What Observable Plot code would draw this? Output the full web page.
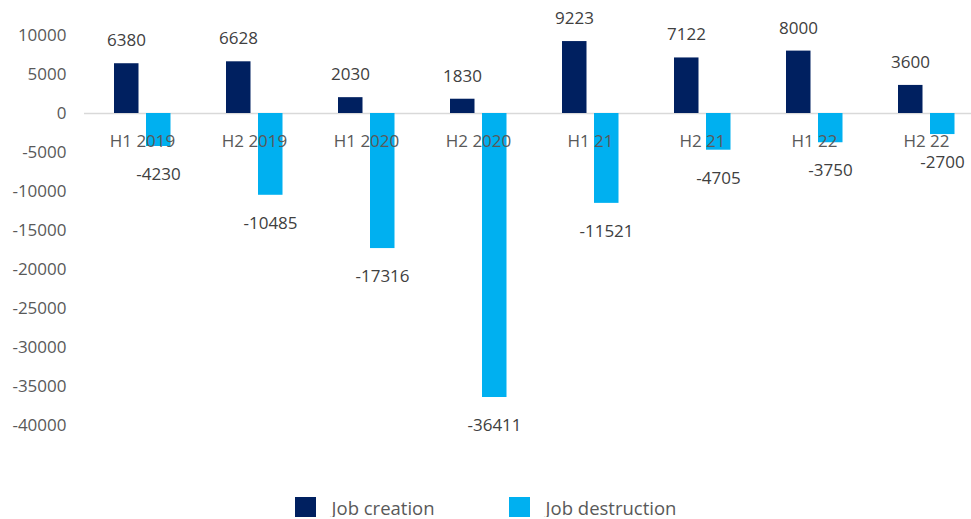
<!DOCTYPE html>
<html><head><meta charset="utf-8">
<script src="https://cdn.jsdelivr.net/npm/d3@7"></script>
<script src="https://cdn.jsdelivr.net/npm/@observablehq/plot@0.6"></script>
<style>
body{margin:0;background:#fff;font-family:"Open Sans",sans-serif;}
#chart svg{display:block;overflow:visible;}
#legend{display:flex;justify-content:center;align-items:center;gap:74px;margin-top:17px;height:20px;}
.item{display:flex;align-items:center;gap:16px;font-size:18.5px;color:#595959;}
.sw{width:21px;height:21px;display:inline-block;}
</style></head><body><div id="chart"></div><div id="legend"></div><script>
const periods = ["H1 2019","H2 2019","H1 2020","H2 2020","H1 21","H2 21","H1 22","H2 22"];
const jobCreation = [6380,6628,2030,1830,9223,7122,8000,3600];
const jobDestruction = [-4230,-10485,-17316,-36411,-11521,-4705,-3750,-2700];
const seriesNames = ["Job creation","Job destruction"];
const seriesColors = ["#002060","#00b0f0"];
const yTicks = [10000,5000,0,-5000,-10000,-15000,-20000,-25000,-30000,-35000,-40000];

const rows = periods.map((p,i)=>({period:p, creation:jobCreation[i], destruction:jobDestruction[i]}));
const font = "'Open Sans', sans-serif";

const chart = Plot.plot({
  width: 971, height: 480,
  marginLeft: 84, marginRight: 0, marginTop: 35, marginBottom: 55,
  style: {fontFamily: font, background: "#fff"},
  x: {domain: periods, range: [84, 984], padding: 0, axis: null},
  y: {domain: [-40000, 10000], axis: null},
  marks: [
    Plot.axisY({ticks: yTicks, tickSize: 0, tickPadding: 18, fontSize: 17, fill: "#595959", tickFormat: d => String(d), label: null}),
    Plot.ruleY([0], {stroke: "#d9d9d9", strokeWidth: 1.3}),
    Plot.barY(rows, {x: "period", y: "creation", fill: seriesColors[0], insetLeft: 28, insetRight: 59.5}),
    Plot.barY(rows, {x: "period", y: "destruction", fill: seriesColors[1], insetLeft: 60, insetRight: 27.5}),
    Plot.text(rows, {x: "period", y: "creation", text: d => String(d.creation), dx: -16, dy: -23, fontSize: 17, fill: "#404040"}),
    Plot.text(rows, {x: "period", y: "destruction", text: d => String(d.destruction), dx: 16, dy: 28, fontSize: 17, fill: "#404040"}),
    Plot.text(periods, {x: d => d, y: () => 0, text: d => d, dy: 28, fontSize: 17, fill: "#595959"})
  ]
});
document.getElementById("chart").appendChild(chart);

const legend = document.getElementById("legend");
seriesNames.forEach((n,i)=>{
  const it = document.createElement("div");
  it.className = "item";
  const sw = document.createElement("span");
  sw.className = "sw"; sw.style.background = seriesColors[i];
  const t = document.createElement("span"); t.textContent = n;
  it.appendChild(sw); it.appendChild(t);
  legend.appendChild(it);
});
</script></body></html>
